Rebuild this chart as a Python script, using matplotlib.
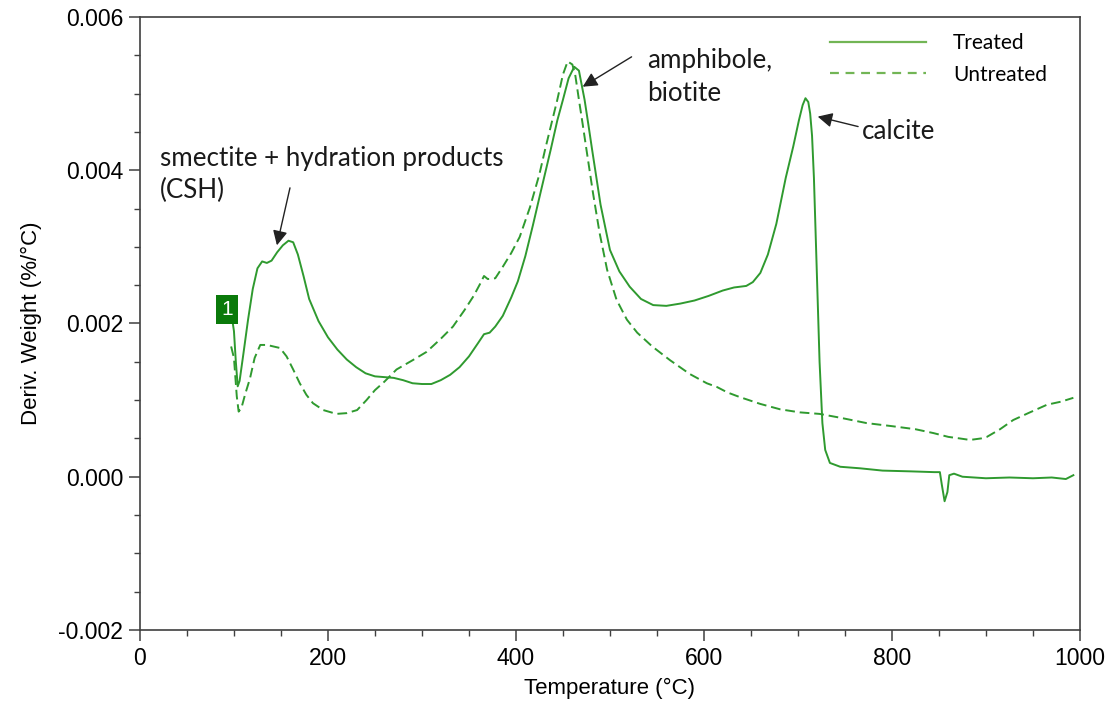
import matplotlib.pyplot as plt
from matplotlib.lines import Line2D
from matplotlib.ticker import MultipleLocator, FormatStrFormatter

# DTG curves, temperature in °C, derivative weight in %/°C
treated_t = [97, 100, 102, 104, 106, 110, 115, 120, 125, 130, 135, 140, 146, 152, 158,
             163, 168, 174, 180, 190, 200, 210, 220, 230, 240, 250, 260, 270, 280, 290,
             300, 310, 320, 330, 340, 350, 360, 366, 372, 378, 386, 395, 402, 410, 418,
             426, 437, 444, 450, 456, 462, 467, 473, 477, 481, 490, 500, 510, 521, 533,
             546, 560, 575, 590, 605, 620, 632, 645, 652, 660, 668, 677, 687, 695, 701,
             705, 708, 711, 713, 715, 717, 720, 723, 726, 729, 734, 745, 766, 790, 820,
             845, 851, 853, 856, 859, 861, 866, 875, 900, 925, 950, 970, 985, 993]
treated_w = [0.00215, 0.00190, 0.00150, 0.00118, 0.00125, 0.00160, 0.00205, 0.00245,
             0.00272, 0.00281, 0.00279, 0.00282, 0.00293, 0.00302, 0.00308, 0.00306,
             0.00290, 0.00262, 0.00232, 0.00203, 0.00182, 0.00166, 0.00153, 0.00143,
             0.00135, 0.00131, 0.00130, 0.00129, 0.00126, 0.00122, 0.00121, 0.00121,
             0.00126, 0.00133, 0.00143, 0.00157, 0.00175, 0.00186, 0.00188, 0.00196,
             0.00210, 0.00234, 0.00255, 0.00288, 0.00328, 0.00370, 0.00427, 0.00465,
             0.00492, 0.00520, 0.00535, 0.00530, 0.00492, 0.00460, 0.00427, 0.00355,
             0.00296, 0.00268, 0.00248, 0.00232, 0.00224, 0.00223, 0.00226, 0.00230,
             0.00236, 0.00243, 0.00247, 0.00249, 0.00254, 0.00266, 0.00290, 0.00330,
             0.00390, 0.00431, 0.00465, 0.00485, 0.00494, 0.00489, 0.00474, 0.00445,
             0.00390, 0.00270, 0.00150, 0.00070, 0.00035, 0.00018, 0.00013, 0.00011,
             0.00008, 0.00007, 0.00006, 0.00006, -0.00010, -0.00032, -0.00020, 0.00002,
             0.00004, 0.00000, -0.00002, -0.00001, -0.00002, -0.00001, -0.00003, 0.00002]

untreated_t = [97, 100, 103, 105, 108, 112, 117, 122, 128, 135, 142, 149, 156, 163, 170,
               177, 184, 195, 209, 220, 231, 241, 250, 260, 273, 290, 305, 320, 333, 345,
               355, 362, 366, 370, 378, 386, 395, 404, 415, 425, 431, 438, 444, 450, 455,
               460, 463, 467, 471, 475, 482, 489, 497, 507, 518, 529, 545, 564, 585, 603,
               614, 625, 638, 660, 681, 702, 723, 745, 773, 800, 825, 844, 860, 872, 883,
               895, 901, 915, 929, 945, 965, 980, 993]
untreated_w = [0.00170, 0.00155, 0.00105, 0.00085, 0.00090, 0.00108, 0.00128, 0.00155,
               0.00172, 0.00172, 0.00170, 0.00168, 0.00157, 0.00140, 0.00122, 0.00107,
               0.00096, 0.00087, 0.00082, 0.00083, 0.00087, 0.00100, 0.00113, 0.00124,
               0.00140, 0.00152, 0.00163, 0.00180, 0.00196, 0.00217, 0.00236, 0.00252,
               0.00262, 0.00258, 0.00259, 0.00274, 0.00292, 0.00313, 0.00352, 0.00395,
               0.00427, 0.00462, 0.00492, 0.00525, 0.00542, 0.00538, 0.00525, 0.00492,
               0.00460, 0.00427, 0.00370, 0.00318, 0.00270, 0.00231, 0.00205, 0.00188,
               0.00170, 0.00152, 0.00134, 0.00122, 0.00117, 0.00110, 0.00104, 0.00095,
               0.00088, 0.00084, 0.00082, 0.00077, 0.00070, 0.00066, 0.00062, 0.00057,
               0.00052, 0.00050, 0.00048, 0.00050, 0.00052, 0.00062, 0.00074, 0.00083,
               0.00094, 0.00098, 0.00103]

GREEN = '#2f9a2f'
LEGEND_GREEN = '#72b555'
SPINE = '#404040'

fig = plt.figure(figsize=(11.09, 7.02), dpi=100)
ax = fig.add_axes([0.1262, 0.1026, 0.8476, 0.8732])

ax.plot(treated_t, treated_w, color=GREEN, lw=1.4)
ax.plot(untreated_t, untreated_w, color=GREEN, lw=1.4, linestyle=(0, (5, 2.5)))

ax.set_xlim(0, 1000)
ax.set_ylim(-0.002, 0.006)
ax.xaxis.set_major_locator(MultipleLocator(200))
ax.xaxis.set_minor_locator(MultipleLocator(50))
ax.yaxis.set_major_locator(MultipleLocator(0.002))
ax.yaxis.set_minor_locator(MultipleLocator(0.0005))
ax.yaxis.set_major_formatter(FormatStrFormatter('%.3f'))

tick_font = {'family': 'Liberation Sans', 'size': 16}
for lab in ax.get_xticklabels() + ax.get_yticklabels():
    lab.set_fontfamily('Liberation Sans')
    lab.set_fontsize(16.5)
ax.tick_params(which='major', length=8, width=1.1, color=SPINE, direction='out', pad=4)
ax.tick_params(which='minor', length=4, width=1.0, color=SPINE, direction='out')
ax.tick_params(top=False, right=False)
for s in ax.spines.values():
    s.set_color(SPINE)
    s.set_linewidth(1.2)

ax.set_xlabel('Temperature (°C)', fontdict=tick_font, labelpad=6)
ax.set_ylabel('Deriv. Weight (%/°C)', fontdict=tick_font, labelpad=12)

# curve marker "1"
ax.text(92.5, 0.00218, '1', color='white', fontsize=15, family='Liberation Sans',
        ha='center', va='center',
        bbox=dict(boxstyle='square,pad=0.25', fc='#0a7a0a', ec='none'))

ann_font = dict(family='Lato', fontsize=18.7, color='#1a1a1a')
arrow = dict(arrowstyle='-|>', color='#222222', lw=1.0, mutation_scale=22,
             shrinkA=0, shrinkB=0)

ax.text(21, 0.00432, 'smectite + hydration products\n(CSH)', va='top', ha='left',
        linespacing=1.38, **ann_font)
ax.annotate('', xy=(145.7, 0.00302), xytext=(159.6, 0.00377), arrowprops=arrow)

ax.text(540, 0.00559, 'amphibole,\nbiotite', va='top', ha='left', linespacing=1.38, **ann_font)
ax.annotate('', xy=(471, 0.00509), xytext=(523, 0.00548), arrowprops=arrow)

ax.text(768, 0.00451, 'calcite', va='center', ha='left', **ann_font)
ax.annotate('', xy=(721, 0.0047), xytext=(764, 0.00457), arrowprops=arrow)

handles = [Line2D([], [], color=LEGEND_GREEN, lw=1.6),
           Line2D([], [], color=LEGEND_GREEN, lw=1.6, linestyle=(0, (4, 3)))]
ax.legend(handles, ['Treated', 'Untreated'], loc='upper right',
          bbox_to_anchor=(0.985, 1.004), frameon=False, handlelength=4.6,
          handletextpad=1.3, labelspacing=0.55, prop={'family': 'Lato', 'size': 15})

fig.savefig('out.png', dpi=100)
